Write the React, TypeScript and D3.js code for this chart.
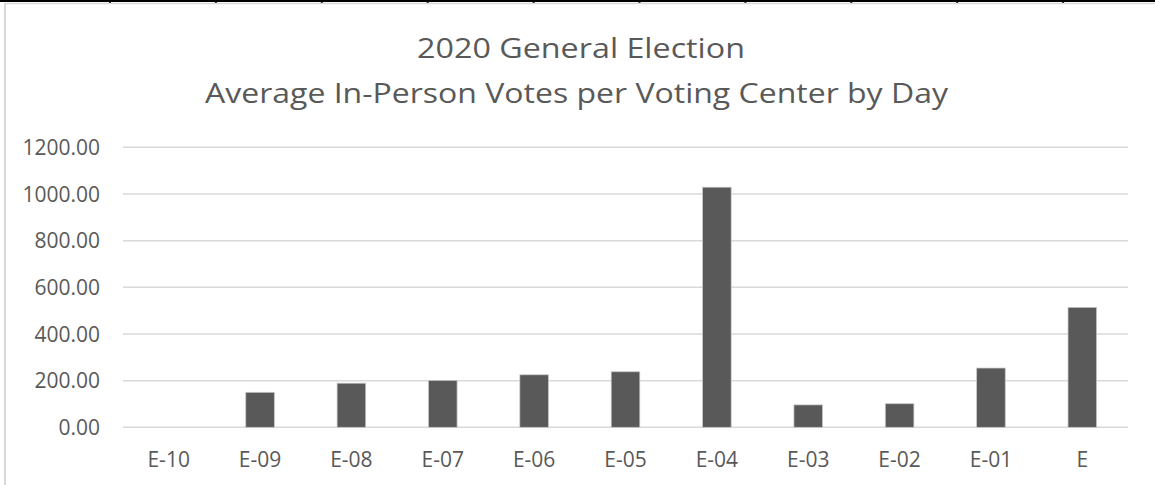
import React from "react";
import * as d3 from "d3";

const categories = ["E-10", "E-09", "E-08", "E-07", "E-06", "E-05", "E-04", "E-03", "E-02", "E-01", "E"];
const values = [0, 150, 189, 201, 225, 238, 1029, 96, 101, 254, 514];
const yTicks = [0, 200, 400, 600, 800, 1000, 1200];
const titleLines = ["2020 General Election", "Average In-Person Votes per Voting Center by Day"];

const W = 1155;
const H = 485;
const FONT = "'Open Sans', 'Noto Sans', sans-serif";
const TEXT = "#595959";

export default function App() {
  const x = d3
    .scaleBand<string>()
    .domain(categories)
    .range([123, 1128])
    .paddingInner(0.687)
    .paddingOuter(0.3435);
  const y = d3.scaleLinear().domain([0, 1200]).range([427.3, 147.3]);

  const cellEdges = d3.range(10).map((i) => 110 + i * 105.9);

  return (
    <svg
      width={W}
      height={H}
      style={{ position: "absolute", left: 0, top: 0, background: "#fff" }}
      fontFamily={FONT}
    >
      <rect x={0} y={0} width={W} height={H} fill="#fff" />
      {/* spreadsheet cell border above chart */}
      <line x1={0} x2={W} y1={1} y2={1} stroke="#000" strokeWidth={2} />
      {cellEdges.map((cx, i) => (
        <line key={i} x1={cx} x2={cx} y1={0} y2={3} stroke="#000" strokeWidth={2} />
      ))}
      {/* chart area border */}
      <line x1={5} x2={W} y1={3.5} y2={3.5} stroke="#d9d9d9" strokeWidth={1.5} />
      <line x1={5} x2={5} y1={3} y2={H} stroke="#d9d9d9" strokeWidth={2} />

      {/* title */}
      <text x={581} y={58.3} textAnchor="middle" fontSize={27} fill={TEXT} textLength={328} lengthAdjust="spacingAndGlyphs">
        {titleLines[0]}
      </text>
      <text x={576.5} y={103.3} textAnchor="middle" fontSize={27} fill={TEXT} textLength={743} lengthAdjust="spacingAndGlyphs">
        {titleLines[1]}
      </text>

      {/* gridlines */}
      {yTicks.map((t) => (
        <line key={t} x1={123} x2={1128} y1={y(t)} y2={y(t)} stroke="#d9d9d9" strokeWidth={1.5} />
      ))}
      {/* y labels */}
      {yTicks.map((t) => (
        <text key={t} x={100} y={y(t) + 7.6} textAnchor="end" fontSize={21} fill={TEXT}>
          {t.toFixed(2)}
        </text>
      ))}

      {/* bars */}
      {categories.map((c, i) => (
        <rect
          key={c}
          x={x(c)}
          y={y(values[i])}
          width={x.bandwidth()}
          height={y(0) - y(values[i])}
          fill="#595959"
          stroke={values[i] > 0 ? "#c8c8c8" : "none"}
          strokeWidth={0.75}
        />
      ))}

      {/* x labels */}
      {categories.map((c) => (
        <text key={c} x={(x(c) as number) + x.bandwidth() / 2} y={466.7} textAnchor="middle" fontSize={21} fill={TEXT}>
          {c}
        </text>
      ))}
    </svg>
  );
}
